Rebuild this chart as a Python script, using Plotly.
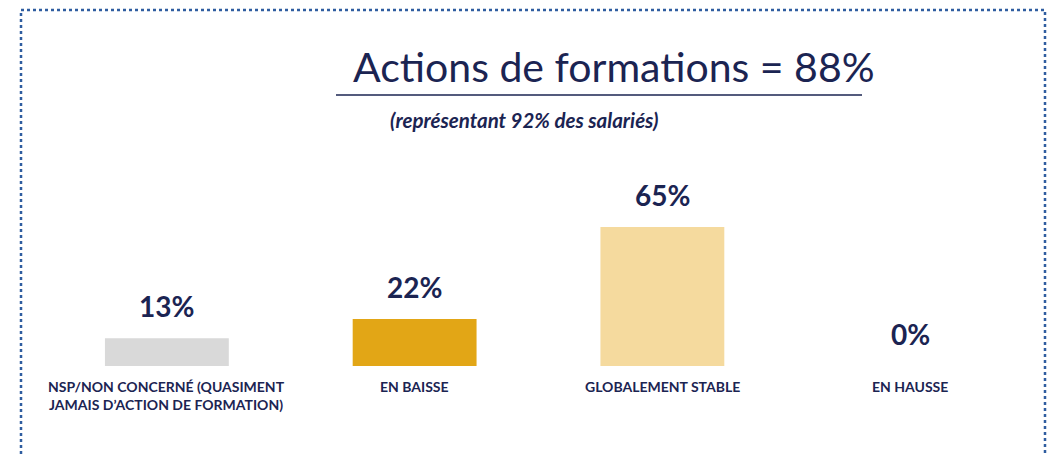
import plotly.graph_objects as go

categories = ["NSP/NON CONCERNÉ (QUASIMENT<br>JAMAIS D’ACTION DE FORMATION)",
              "EN BAISSE", "GLOBALEMENT STABLE", "EN HAUSSE"]
values = [13, 22, 65, 0]
value_labels = ["13%", "22%", "65%", "0%"]
bar_colors = ["#D9D9D9", "#E2A616", "#F5DA9E", "#F5DA9E"]
title_text = "Actions de formations = 88%"
subtitle_text = "(représentant 92% des salariés)"

OFF = 8  # page body margin
W, H = 1058 - OFF, 464 - 2 * OFF
ML, MT = 43 - OFF, 195 - OFF
MR = W - (1034 - OFF)
MB = H - (366 - OFF)
PW, PH = W - ML - MR, H - MT - MB
NAVY = "#1B2452"
FONT = "Lato, 'Open Sans', sans-serif"


def px(x):
    return (x - OFF - ML) / PW


def py(y):
    return (H - MB - (y - OFF)) / PH


fig = go.Figure()
fig.add_trace(go.Bar(
    x=list(range(len(categories))), y=values,
    marker=dict(color=bar_colors, line=dict(width=0)),
    hoverinfo="skip",
))

for i, (v, t) in enumerate(zip(values, value_labels)):
    fig.add_annotation(x=i, y=v, text=f"<b>{t}</b>", showarrow=False,
                       yanchor="bottom", yshift=13,
                       font=dict(family=FONT, size=28, color=NAVY))

for i, c in enumerate(categories):
    fig.add_annotation(x=i, y=0, text=f"<b>{c}</b>", showarrow=False,
                       yanchor="top", yshift=-10,
                       font=dict(family=FONT, size=14, color=NAVY))

fig.add_annotation(x=px(614), y=py(66), xref="paper", yref="paper",
                   text=title_text, showarrow=False,
                   xanchor="center", yanchor="middle",
                   font=dict(family=FONT, size=41, color=NAVY))
fig.add_annotation(x=px(524), y=py(120), xref="paper", yref="paper",
                   text=f"<b><i>{subtitle_text}</i></b>", showarrow=False,
                   xanchor="center", yanchor="middle",
                   font=dict(family=FONT, size=20.5, color=NAVY))

fig.add_shape(type="line", xref="paper", yref="paper",
              x0=px(336), x1=px(862), y0=py(95), y1=py(95),
              line=dict(color=NAVY, width=1.5))
fig.add_shape(type="rect", xref="paper", yref="paper",
              x0=px(21), x1=px(1045), y0=py(10), y1=py(480),
              line=dict(color="#2F5DA0", width=2.5, dash="dot"))

fig.update_layout(
    width=W, height=H,
    margin=dict(l=ML, r=MR, t=MT, b=MB),
    paper_bgcolor="white", plot_bgcolor="white",
    bargap=0.5, showlegend=False,
    xaxis=dict(range=[-0.5, 3.5], visible=False, fixedrange=True),
    yaxis=dict(range=[0, PH / 2.14], visible=False, fixedrange=True),
)

fig.write_html("out.html", config={"displayModeBar": False})
